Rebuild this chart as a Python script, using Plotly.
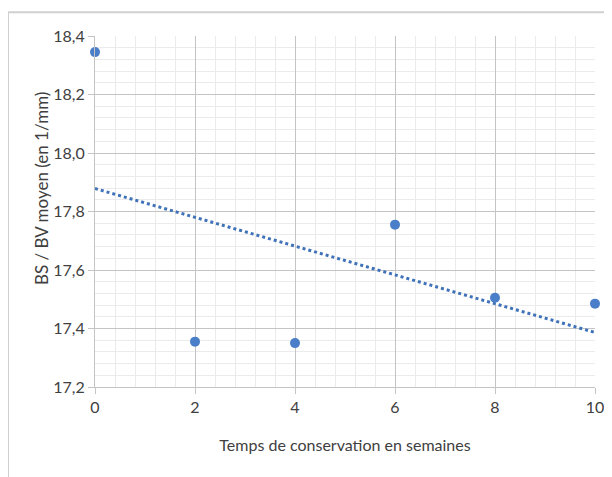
import numpy as np
import plotly.graph_objects as go

# ==========================================================
# Data
# ==========================================================

weeks = [0, 2, 4, 6, 8, 10]
bs_bv = [18.345, 17.355, 17.35, 17.755, 17.505, 17.485]

# linear trendline (least squares), as in the spreadsheet chart
slope, intercept = np.polyfit(weeks, bs_bv, 1)
trend_x = [0, 10]
trend_y = [intercept + slope * x for x in trend_x]

FONT = "Lato, Open Sans, sans-serif"
GRID_MAJOR = "#c4c4c4"
GRID_MINOR = "#ebebeb"

fig = go.Figure()

fig.add_trace(go.Scatter(
    x=trend_x,
    y=trend_y,
    mode="lines",
    line=dict(color="#3f72b8", width=3, dash="dot"),
    hoverinfo="skip",
))

fig.add_trace(go.Scatter(
    x=weeks,
    y=bs_bv,
    mode="markers",
    marker=dict(color="#4a7ec8", size=10),
    cliponaxis=False,
))

# page body has an 8px margin, so the figure is a bit smaller than the window
fig.update_layout(
    width=604,
    height=469,
    showlegend=False,
    plot_bgcolor="white",
    paper_bgcolor="white",
    separators=", ",
    margin=dict(l=87, r=17, t=28, b=90, autoexpand=False),
    font=dict(family=FONT, color="#404040", size=16),
    xaxis=dict(
        range=[0, 10],
        dtick=2,
        tick0=0,
        showgrid=True,
        gridcolor=GRID_MAJOR,
        gridwidth=1,
        minor=dict(dtick=0.4, showgrid=True, gridcolor=GRID_MINOR, gridwidth=1),
        zeroline=False,
        showline=True,
        linecolor=GRID_MAJOR,
        ticks="outside",
        ticklen=6,
        tickcolor=GRID_MAJOR,
        tickfont=dict(size=16),
        automargin=False,
        title=dict(text="Temps de conservation en semaines", font=dict(size=16), standoff=24),
    ),
    yaxis=dict(
        range=[17.2, 18.4],
        dtick=0.2,
        tick0=17.2,
        tickformat=".1f",
        showgrid=True,
        gridcolor=GRID_MAJOR,
        gridwidth=1,
        minor=dict(dtick=0.04, showgrid=True, gridcolor=GRID_MINOR, gridwidth=1),
        zeroline=False,
        showline=True,
        linecolor=GRID_MAJOR,
        ticks="outside",
        ticklen=6,
        tickcolor=GRID_MAJOR,
        tickfont=dict(size=16),
        automargin=False,
    ),
)

# y title sits a little above the plot centre in the original
fig.add_annotation(
    text="BS / BV moyen (en 1/mm)",
    xref="paper", yref="paper",
    x=-0.108, y=0.564,
    xanchor="center", yanchor="middle",
    textangle=-90,
    showarrow=False,
    font=dict(size=17),
)

# outer chart frame (top and left edges visible)
fig.add_shape(type="line", xref="paper", yref="paper",
              x0=-0.174, x1=1.04, y0=1.068, y1=1.068,
              line=dict(color="#d0d0d0", width=2))
fig.add_shape(type="line", xref="paper", yref="paper",
              x0=-0.174, x1=-0.174, y0=1.068, y1=-0.26,
              line=dict(color="#d0d0d0", width=2))

fig.write_html("out.html")
